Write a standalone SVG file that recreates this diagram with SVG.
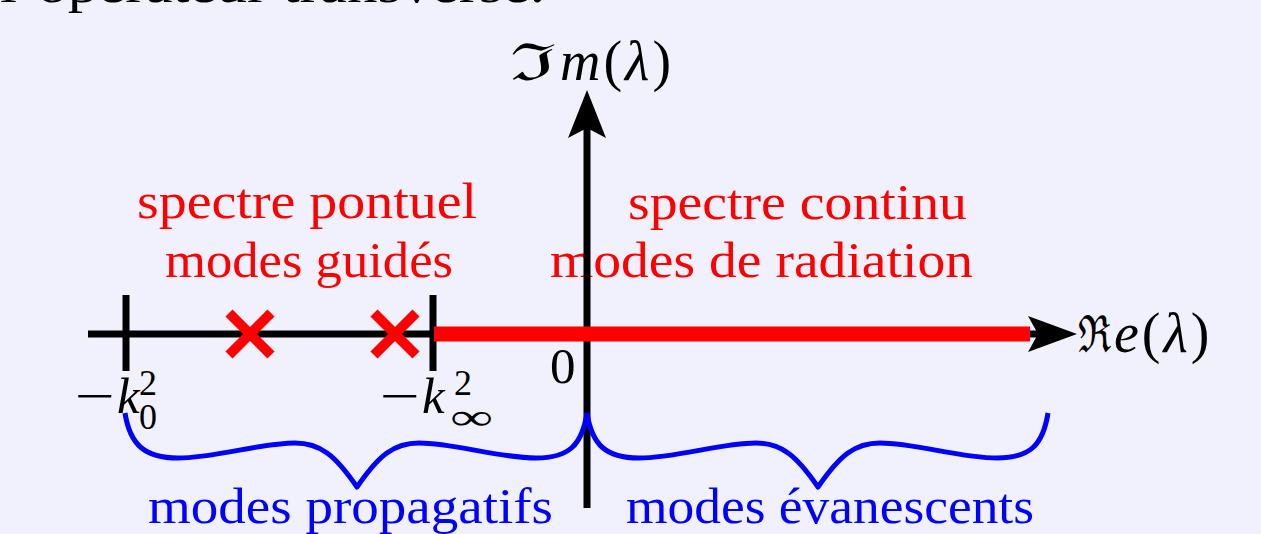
<svg xmlns="http://www.w3.org/2000/svg" width="1261" height="534" viewBox="0 0 1261 534">
<style>
text{font-family:"Liberation Serif","DejaVu Serif",serif;}
.frak{font-family:"DejaVu Serif",serif;font-weight:normal;}
.big{font-size:51px;}
.math{font-size:56px;letter-spacing:3px;}
.red{fill:#ff0000;}
.blue{fill:#0000ff;}
.blk{fill:#000;}
.it{font-style:italic;}
.sm{font-size:36px;}
.axis{stroke:#000;stroke-width:7;fill:none;}
.brace{stroke:#0000ff;stroke-width:5;fill:none;stroke-linejoin:round;}
.cross{stroke:#ff0000;stroke-width:10;}
</style>
<rect width="1261" height="534" fill="#f1f1fd"/>
<text id="top-text" class="big blk" x="0" y="2" textLength="545" lengthAdjust="spacingAndGlyphs">l’opérateur transverse.</text>
<g id="labels-top">
<text id="lbl-ponctuel-1" class="big red" x="137" y="218" textLength="340" lengthAdjust="spacingAndGlyphs">spectre pontuel</text>
<text id="lbl-ponctuel-2" class="big red" x="165" y="277" textLength="288" lengthAdjust="spacingAndGlyphs">modes guidés</text>
<text id="lbl-continu-1" class="big red" x="628" y="219" textLength="339" lengthAdjust="spacingAndGlyphs">spectre continu</text>
<text id="lbl-continu-2" class="big red" x="550" y="277" textLength="423" lengthAdjust="spacingAndGlyphs">modes de radiation</text>
</g>
<g id="connectors">
<line id="axis-x" class="axis" x1="88" y1="334" x2="1040" y2="334"/>
<line id="tick-k0" class="axis" x1="126" y1="295" x2="126" y2="371"/>
<line id="tick-kinf" class="axis" x1="433" y1="295" x2="433" y2="371"/>
<line id="axis-y" class="axis" x1="587" y1="508" x2="587" y2="125"/>
<polygon id="arrow-y" points="587,90 606,138 587,128 568,138" fill="#000"/>
<line id="continuous" x1="434" y1="334" x2="1030" y2="334" stroke="#ff0000" stroke-width="15"/>
<polygon id="arrow-x" points="1077,334 1028,316 1038,334 1028,352" fill="#000"/>
<path id="brace-left" class="brace" d="M125,413 C130,445 145,458 178,458 C215,458 260,443 295,443 C320,443 335,455 357,487 C379,455 394,443 419,443 C454,443 499,458 536,458 C569,458 582,445 587,413"/>
<path id="brace-right" class="brace" d="M587,413 C592,445 606,458 639,458 C676,458 721,443 756,443 C781,443 796,455 818,487 C840,455 855,443 880,443 C915,443 960,458 997,458 C1030,458 1043,445 1048,413"/>
</g>
<g id="eigen-1"><line class="cross" x1="229" y1="313" x2="271" y2="355"/><line class="cross" x1="229" y1="355" x2="271" y2="313"/></g>
<g id="eigen-2"><line class="cross" x1="374" y1="313" x2="416" y2="355"/><line class="cross" x1="374" y1="355" x2="416" y2="313"/></g>
<g id="label-k0">
<text class="big blk" x="75" y="413" textLength="40" lengthAdjust="spacingAndGlyphs">−</text>
<text class="big blk it" x="117" y="413">k</text>
<text class="sm blk" x="139" y="395">2</text>
<text class="sm blk" x="139" y="429">0</text>
</g>
<g id="label-kinf">
<text class="big blk" x="380" y="413" textLength="40" lengthAdjust="spacingAndGlyphs">−</text>
<text class="big blk it" x="422" y="413">k</text>
<text class="sm blk" x="454" y="395">2</text>
<text class="sm blk" x="450" y="429" textLength="43" lengthAdjust="spacingAndGlyphs">∞</text>
</g>
<text id="label-zero" class="big blk" x="550" y="383">0</text>
<g id="label-im">
<text class="big blk frak" x="510" y="80" textLength="47" lengthAdjust="spacingAndGlyphs">ℑ</text>
<text class="math blk" x="560" y="80"><tspan class="it">m</tspan>(<tspan class="it">λ</tspan>)</text>
</g>
<g id="label-re">
<text class="big blk frak" x="1078" y="352" textLength="33" lengthAdjust="spacingAndGlyphs">ℜ</text>
<text class="math blk" x="1114" y="352"><tspan class="it">e</tspan>(<tspan class="it">λ</tspan>)</text>
</g>
<g id="labels-bottom">
<text id="lbl-propag" class="big blue" x="148" y="523" textLength="405" lengthAdjust="spacingAndGlyphs">modes propagatifs</text>
<text id="lbl-evan" class="big blue" x="626" y="523" textLength="408" lengthAdjust="spacingAndGlyphs">modes évanescents</text>
</g>
</svg>
